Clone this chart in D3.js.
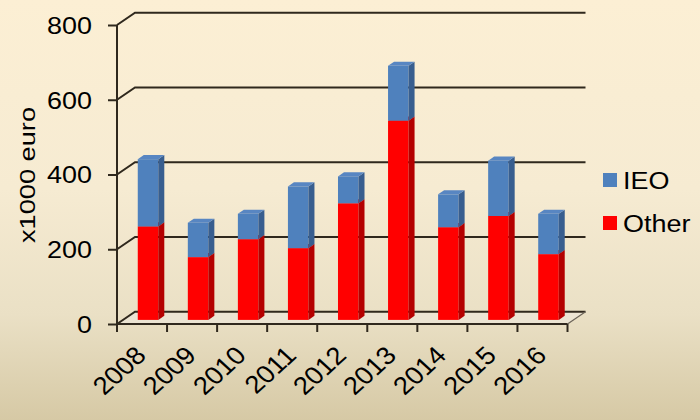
<!DOCTYPE html>
<html><head><meta charset="utf-8">
<script src="https://cdn.jsdelivr.net/npm/d3@7"></script>
<style>html,body{margin:0;padding:0;background:#fff}svg{display:block}</style>
</head><body>
<svg id="chart" width="700" height="420"></svg>
<script>
const years = ["2008","2009","2010","2011","2012","2013","2014","2015","2016"];
const otherValues = [250,168,216,192,312,533,248,278,176];
const ieoValues = [180,92,68,165,72,147,88,148,108];
const yTicks = [0,200,400,600,800];
const seriesNames = ["IEO","Other"];
const seriesColors = {IEO:"#4F81BD", Other:"#FF0000"};
const sideColors = {IEO:"#385E8F", Other:"#B40000"};
const topColors = {IEO:"#5886C2", Other:"#E00000"};
const yTitle = "x1000 euro";

const svg = d3.select("#chart");
const defs = svg.append("defs");
const bg = defs.append("linearGradient").attr("id","bg").attr("x1",0).attr("y1",0).attr("x2",0).attr("y2",1);
[[0,"#FCEFD4"],[0.45,"#F6EBD2"],[0.75,"#EAE0C5"],[1,"#D6C9A5"]].forEach(s=>bg.append("stop").attr("offset",s[0]).attr("stop-color",s[1]));
svg.append("rect").attr("width",700).attr("height",420).attr("fill","url(#bg)");

const x = d3.scaleBand().domain(years).range([117,567.5]).padding(0);
const y = d3.scaleLinear().domain([0,800]).range([324,25]);
const D = {dx:18, dy:-12.3};
const lineColor = "#2f281d";
const font = "'Liberation Sans', Arial, sans-serif";

// floor
const x0 = x.range()[0], x1 = x.range()[1];
svg.append("path")
  .attr("d", `M${x0},${y(0)}L${x1},${y(0)}L${x1+D.dx},${y(0)+D.dy}L${x0+D.dx},${y(0)+D.dy}Z`)
  .attr("fill","#ECE8DE").attr("opacity",0.55);

// gridlines (wall)
const grid = svg.append("g").attr("fill","none").attr("stroke",lineColor).attr("stroke-width",2);
yTicks.forEach(t=>{
  grid.append("path").attr("d",`M${x0},${y(t)}L${x0+D.dx},${y(t)+D.dy}L${x1+D.dx},${y(t)+D.dy}`);
});
grid.append("path").attr("d",`M${x1},${y(0)}L${x1+D.dx},${y(0)+D.dy}`).attr("stroke-width",1.2).attr("stroke","#6b6458");

// y axis
const yAxis = svg.append("g").attr("transform",`translate(${x0},0)`)
  .call(d3.axisLeft(y).tickValues(yTicks).tickSize(9).tickSizeOuter(0).tickFormat(""));
yAxis.selectAll("line,path").attr("stroke",lineColor).attr("stroke-width",2);
yAxis.select(".domain").attr("d",`M0,${y(800)}V${y(0)+8}`);

svg.append("g").selectAll("text").data(yTicks).join("text")
  .attr("transform", d=>`translate(92,${y(d)}) scale(1.1,1)`)
  .attr("dy","0.36em").attr("text-anchor","end")
  .attr("font-family",font).attr("font-size",24.5).attr("fill","#000")
  .text(d=>d);

// x axis baseline and ticks
svg.append("path").attr("d",`M${x0},${y(0)}H${x1}`).attr("stroke",lineColor).attr("stroke-width",2);
const bounds = years.map(d=>x(d)).concat([x1]);
svg.append("g").selectAll("line").data(bounds).join("line")
  .attr("x1",d=>d).attr("x2",d=>d).attr("y1",y(0)).attr("y2",y(0)+8)
  .attr("stroke",lineColor).attr("stroke-width",2);

svg.append("g").selectAll("text").data(years).join("text")
  .attr("transform", d=>`translate(${x(d)+x.bandwidth()/2+5.5},357) scale(1.1,1) rotate(-45)`)
  .attr("text-anchor","end")
  .attr("font-family",font).attr("font-size",25).attr("fill","#000")
  .text(d=>d);

// bars
const table = years.map((yr,i)=>({year:yr, Other:otherValues[i], IEO:ieoValues[i]}));
const stack = d3.stack().keys(["Other","IEO"])(table);
const bw = x.bandwidth()*0.41;
const bd = {dx:D.dx/3, dy:D.dy/3};
const barsG = svg.append("g");
stack.forEach(layer=>{
  const key = layer.key;
  layer.forEach(seg=>{
    const yr = seg.data.year;
    const xl = x(yr)+x.bandwidth()/2 - bw/2 + bd.dx;
    const xr = xl + bw;
    const yt = y(seg[1]) + bd.dy;
    const yb = y(seg[0]) + bd.dy;
    const g = barsG.append("g");
    g.append("rect").attr("x",xl).attr("y",yt).attr("width",bw).attr("height",yb-yt).attr("fill",seriesColors[key]);
    g.append("path").attr("d",`M${xr},${yt}L${xr+bd.dx},${yt+bd.dy}L${xr+bd.dx},${yb+bd.dy}L${xr},${yb}Z`).attr("fill",sideColors[key]);
    g.append("path").attr("d",`M${xl},${yt}L${xl+bd.dx},${yt+bd.dy}L${xr+bd.dx},${yt+bd.dy}L${xr},${yt}Z`).attr("fill",topColors[key]);
  });
});

// y title
svg.append("text").attr("transform","translate(35,175) rotate(-90)")
  .attr("text-anchor","middle").attr("font-family",font).attr("font-size",22.5)
  .attr("textLength",136).attr("lengthAdjust","spacingAndGlyphs").attr("fill","#000")
  .text(yTitle);

// legend
const legendY = {IEO:173, Other:216};
const lg = svg.append("g");
seriesNames.forEach(s=>{
  lg.append("rect").attr("x",603).attr("y",legendY[s]).attr("width",14).attr("height",14).attr("fill",seriesColors[s]);
  lg.append("text").attr("transform",`translate(623,${legendY[s]+16}) scale(1.1,1)`)
    .attr("font-family",font).attr("font-size",24.5).attr("fill","#000").text(s);
});
</script>
</body></html>
